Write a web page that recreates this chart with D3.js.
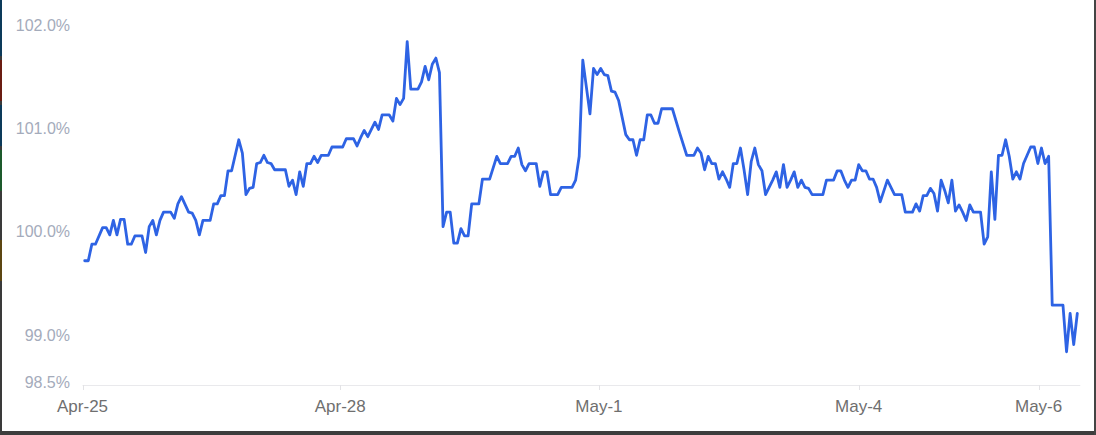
<!DOCTYPE html>
<html><head><meta charset="utf-8">
<script src="https://cdn.jsdelivr.net/npm/d3@7/dist/d3.min.js"></script>
<style>html,body{margin:0;padding:0;background:#fff;overflow:hidden}svg{display:block}</style>
</head><body>
<svg id="chart" width="1096" height="435"></svg>
<script>
// hourly point index of each vertex (flat runs given by their end points)
const hours = [0,1,2,3,5,6,7,8,9,10,11,12,13,14,16,17,18,19,20,21,22,24,25,26,27,29,30,31,32,33,35,36,37,38,39,40,41,43,44,45,46,47,48,49,50,51,52,53,
56,57,58,59,60,61,62,63,64,65,66,68,69,72,73,75,76,77,78,79,80,81,82,83,85,86,87,88,89,90,91,93,94,95,96,97,98,99,100,101,102,103,104,105,106,107,108,110,
111,113,115,116,118,119,120,121,122,123,124,126,127,128,129,130,132,133,136,137,138,139,141,142,143,144,145,146,147,148,149,151,152,153,154,155,156,157,158,159,160,161,164,166,
168,170,171,172,173,174,175,176,177,178,179,180,181,182,183,184,185,186,187,188,189,190,191,192,193,194,195,196,197,198,199,200,201,202,203,206,207,209,210,211,212,213,214,215,216,217,218,219,220,221,222,
224,226,228,229,231,232,233,234,235,236,237,238,239,240,241,242,243,244,245,246,247,248,250,251,252,253,254,255,256,257,258,259,260,261,262,263,264,265,266,267,268,269,270,273,274,275,276,277];
const values = [99.72,99.72,99.88,99.88,100.04,100.04,99.97,100.11,99.97,100.12,100.12,99.88,99.88,99.96,99.96,99.80,100.05,100.11,99.97,100.11,100.19,100.19,100.13,100.27,100.34,100.19,100.18,100.11,99.97,100.11,100.11,100.27,100.27,100.35,100.35,100.59,100.59,100.89,100.76,100.36,100.42,100.43,100.66,100.67,100.74,100.67,100.66,100.60,
100.60,100.44,100.50,100.36,100.58,100.44,100.66,100.66,100.73,100.67,100.74,100.74,100.82,100.82,100.90,100.90,100.83,100.91,100.98,100.92,100.99,101.06,100.99,101.13,101.13,101.07,101.29,101.23,101.29,101.84,101.38,101.38,101.45,101.60,101.47,101.62,101.68,101.54,100.05,100.19,100.19,99.89,99.89,100.03,99.96,99.96,100.27,100.27,
100.51,100.51,100.73,100.66,100.66,100.73,100.73,100.81,100.65,100.59,100.66,100.66,100.44,100.58,100.58,100.36,100.36,100.43,100.43,100.50,100.73,101.66,101.14,101.58,101.52,101.58,101.52,101.51,101.36,101.35,101.27,100.94,100.89,100.89,100.74,100.89,100.89,101.13,101.13,101.05,101.05,101.19,101.19,100.96,
100.74,100.74,100.81,100.76,100.60,100.73,100.66,100.66,100.51,100.58,100.51,100.43,100.66,100.66,100.81,100.60,100.36,100.68,100.81,100.65,100.59,100.36,100.43,100.50,100.58,100.43,100.65,100.43,100.50,100.58,100.43,100.50,100.43,100.42,100.36,100.36,100.50,100.50,100.59,100.59,100.50,100.43,100.50,100.50,100.65,100.59,100.59,100.51,100.51,100.43,100.29,
100.50,100.36,100.36,100.19,100.19,100.27,100.20,100.35,100.35,100.42,100.37,100.20,100.50,100.40,100.28,100.50,100.20,100.26,100.19,100.11,100.26,100.19,100.19,99.88,99.95,100.58,100.12,100.74,100.74,100.89,100.73,100.51,100.58,100.51,100.66,100.74,100.82,100.82,100.66,100.81,100.66,100.73,99.29,99.29,98.84,99.21,98.91,99.21];
const yTicks = [98.5, 99, 100, 101, 102];
const xTickLabels = ["Apr-25", "Apr-28", "May-1", "May-4", "May-6"];
const xTickPos = [-0.6, 71.3, 143.5, 216, 266.2];

const svg = d3.select("#chart");
const x = d3.scaleLinear().domain([0, 277]).range([84.7, 1077.3]);
const y = d3.scaleLinear().domain([98.5, 102]).range([386.9, 25]);
const baseY = 385;

// frame of the screenshot
svg.append("rect").attr("x", 0).attr("y", 0).attr("width", 2).attr("height", 435).attr("fill", "#3a3a3a");
[[0,56,"#0c3a5a"],[60,101,"#6a1c12"],[105,146,"#0c3a5a"],[150,191,"#1d5a2c"],[240,281,"#5c4612"]].forEach(s=>{
  svg.append("rect").attr("x",0).attr("y",s[0]).attr("width",2).attr("height",s[1]-s[0]).attr("fill",s[2]);
});
svg.append("rect").attr("x", 0).attr("y", 431).attr("width", 1096).attr("height", 4).attr("fill", "#3d3d3d");
svg.append("rect").attr("x", 1094).attr("y", 0).attr("width", 2).attr("height", 435).attr("fill", "#444");

// x axis
const xAxisG = svg.append("g");
xAxisG.append("line").attr("x1", x(xTickPos[0])).attr("x2", x(277) + 3)
  .attr("y1", baseY + 0.5).attr("y2", baseY + 0.5).attr("stroke", "#e9e9ec").attr("stroke-width", 1);
xTickPos.forEach((p, i) => {
  const px = Math.round(x(p)) + 0.5;
  xAxisG.append("line").attr("x1", px).attr("x2", px).attr("y1", baseY).attr("y2", baseY + 5)
    .attr("stroke", "#e3e3e6");
  xAxisG.append("text").attr("x", x(p)).attr("y", 411.5).attr("text-anchor", "middle")
    .attr("font-family", "Liberation Sans, Arial, sans-serif").attr("font-size", 17)
    .attr("fill", "#6f6f6f").text(xTickLabels[i]);
});

// y labels
const fmt = d3.format(".1f");
yTicks.forEach(t => {
  const py = t === yTicks[0] ? y(t) - 4.5 : y(t);
  svg.append("text").attr("x", 70).attr("y", py).attr("dy", "0.35em").attr("text-anchor", "end")
    .attr("font-family", "Liberation Sans, Arial, sans-serif").attr("font-size", 16)
    .attr("fill", "#a4abbb").text(fmt(t) + "%");
});

// line
const pts = hours.map((h, i) => [h, values[i]]);
const line = d3.line().x(d => x(d[0])).y(d => y(d[1]));
svg.append("path").datum(pts).attr("d", line).attr("fill", "none")
  .attr("stroke", "#2e63e4").attr("stroke-width", 2.8).attr("stroke-linejoin", "round").attr("stroke-linecap", "round");
</script>
</body></html>
